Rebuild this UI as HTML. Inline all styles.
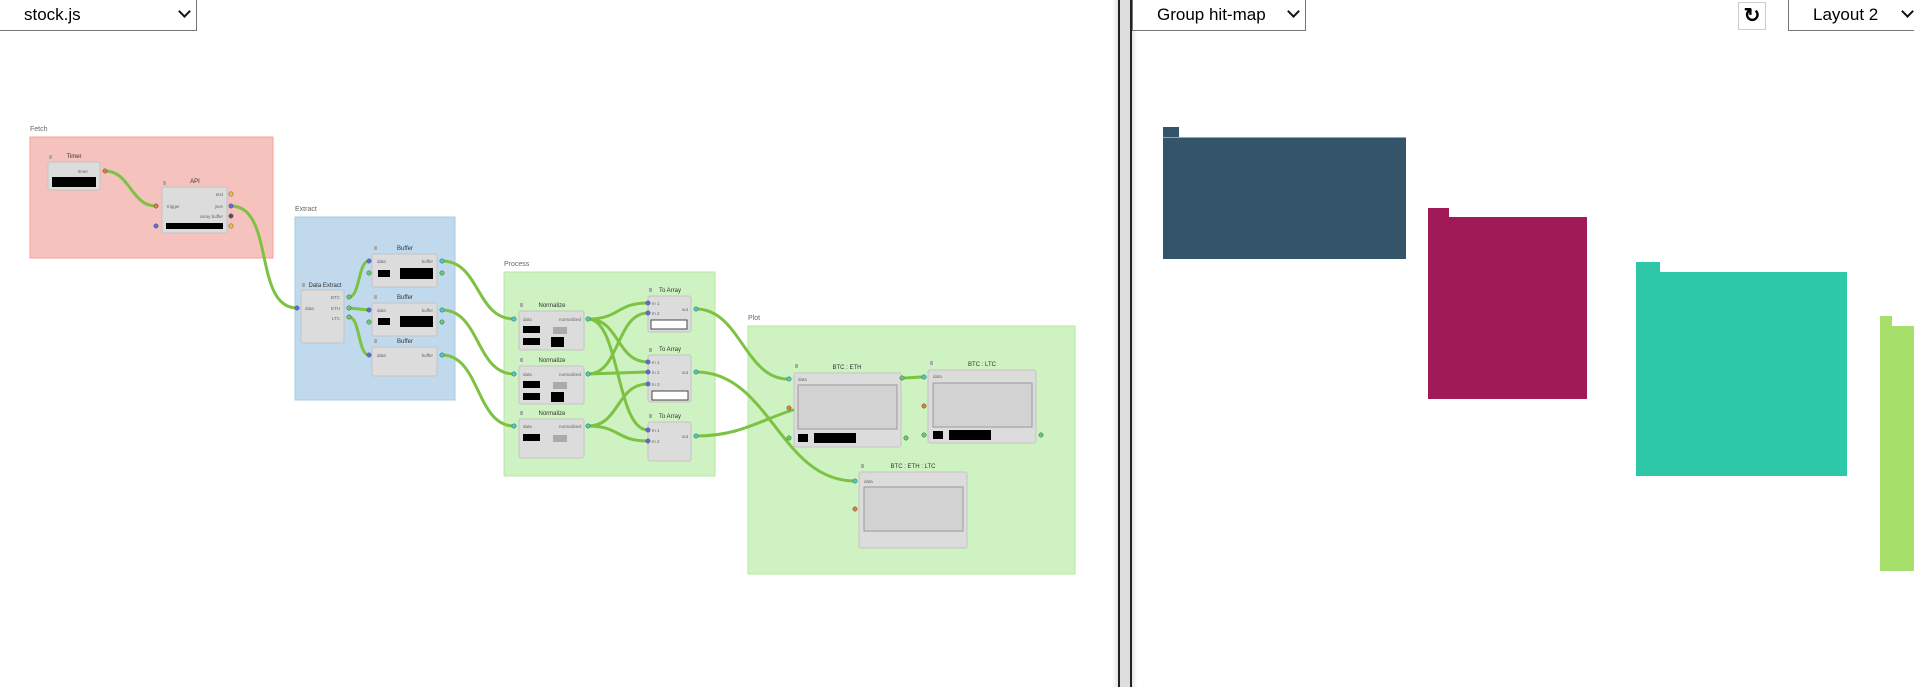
<!DOCTYPE html>
<html><head><meta charset="utf-8"><style>
html,body{margin:0;padding:0;width:1914px;height:687px;overflow:hidden;background:#fff;font-family:"Liberation Sans",sans-serif;}
.sel{position:absolute;top:-1px;height:32px;border:1px solid #767676;border-top:none;background:#fff;box-sizing:border-box;font-size:17px;color:#000;}
.sel span{position:absolute;top:6px;}
.chev{position:absolute;top:8px;width:7px;height:7px;border-right:2px solid #111;border-bottom:2px solid #111;transform:rotate(45deg);}
.abs{position:absolute;}
</style></head><body>
<div class="sel" style="left:-1px;width:198px;"><span style="left:24px">stock.js</span><div class="chev" style="left:180px"></div></div>
<div class="abs" style="left:1112px;top:0;width:6px;height:687px;background:linear-gradient(to right,#fff,#e4e4e4)"></div>
<div class="abs" style="left:1118px;top:0;width:2px;height:687px;background:#222"></div>
<div class="abs" style="left:1120px;top:0;width:10px;height:687px;background:#ddd"></div>
<div class="abs" style="left:1130px;top:0;width:2px;height:687px;background:#222"></div>
<div class="abs" style="left:1132px;top:0;width:5px;height:687px;background:linear-gradient(to right,#e4e4e4,#fff)"></div>
<div class="sel" style="left:1132px;width:174px;"><span style="left:24px">Group hit-map</span><div class="chev" style="left:156px"></div></div>
<div class="abs" style="left:1738px;top:2px;width:28px;height:28px;border:1px solid #ccc;box-sizing:border-box;font-size:20px;font-weight:bold;text-align:center;line-height:26px;">&#x21bb;</div>
<div class="sel" style="left:1788px;width:140px;"><span style="left:24px">Layout 2</span><div class="chev" style="left:114px"></div></div>

<div class="abs" style="left:1163px;top:127px;width:16px;height:10px;background:#34546a"></div>
<div class="abs" style="left:1163px;top:137px;width:243px;height:121px;background:#34546a;border-top:1px solid #8aa"></div>
<div class="abs" style="left:1428px;top:208px;width:21px;height:9px;background:#a01a58"></div>
<div class="abs" style="left:1428px;top:217px;width:159px;height:182px;background:#a01a58"></div>
<div class="abs" style="left:1636px;top:262px;width:24px;height:10px;background:#2dc8a8"></div>
<div class="abs" style="left:1636px;top:272px;width:211px;height:204px;background:#2dc8a8"></div>
<div class="abs" style="left:1880px;top:316px;width:12px;height:10px;background:#a6e06a"></div>
<div class="abs" style="left:1880px;top:326px;width:34px;height:245px;background:#a6e06a"></div>

<svg class="abs" style="left:0;top:0" width="1110" height="687" font-family="Liberation Sans, sans-serif">
<g font-size="7" fill="#666">
<rect x="30" y="137" width="243" height="121" fill="#f6c2bd" stroke="#f4a19a"/><text x="30" y="131">Fetch</text>
<rect x="295" y="217" width="160" height="183" fill="#c0d9ec" stroke="#a8cbe6"/><text x="295" y="211">Extract</text>
<rect x="504" y="272" width="211" height="204" fill="#cff2c2" stroke="#b5e8a0"/><text x="504" y="266">Process</text>
<rect x="748" y="326" width="327" height="248" fill="#cff2c2" stroke="#b5e8a0"/><text x="748" y="320">Plot</text>
</g>
<g fill="#dcdcdc" stroke="#c4c4c4">
<rect x="48" y="162" width="52" height="28" rx="2"/>
<rect x="162" y="187" width="65" height="46" rx="2"/>
<rect x="301" y="290" width="43" height="53" rx="2"/>
<rect x="372" y="254" width="65" height="33" rx="2"/>
<rect x="372" y="303" width="65" height="33" rx="2"/>
<rect x="372" y="347" width="65" height="29" rx="2"/>
<rect x="519" y="311" width="65" height="39" rx="2"/>
<rect x="519" y="366" width="65" height="38" rx="2"/>
<rect x="519" y="419" width="65" height="39" rx="2"/>
<rect x="648" y="296" width="43" height="36" rx="2"/>
<rect x="648" y="355" width="43" height="47" rx="2"/>
<rect x="648" y="422" width="43" height="39" rx="2"/>
<rect x="794" y="373" width="107" height="74" rx="2"/>
<rect x="928" y="370" width="108" height="73" rx="2"/>
<rect x="859" y="472" width="108" height="76" rx="2"/>
</g>
<g fill="#d2d2d2" stroke="#999">
<rect x="798" y="385" width="99" height="44"/>
<rect x="933" y="383" width="99" height="44"/>
<rect x="864" y="487" width="99" height="44"/>
</g>
<g fill="#000">
<rect x="52" y="177" width="44" height="10"/>
<rect x="166" y="223" width="57" height="6"/>
<rect x="378" y="270" width="12" height="7"/><rect x="400" y="268" width="33" height="11"/>
<rect x="378" y="318" width="12" height="7"/><rect x="400" y="316" width="33" height="11"/>
<rect x="523" y="326" width="17" height="7"/><rect x="523" y="338" width="17" height="7"/><rect x="551" y="337" width="13" height="10"/>
<rect x="523" y="381" width="17" height="7"/><rect x="523" y="393" width="17" height="7"/><rect x="551" y="392" width="13" height="10"/>
<rect x="523" y="434" width="17" height="7"/>
<rect x="798" y="434" width="10" height="8"/><rect x="814" y="433" width="42" height="10"/>
<rect x="933" y="431" width="10" height="8"/><rect x="949" y="430" width="42" height="10"/>
</g>
<g fill="#aaa"><rect x="553" y="327" width="14" height="7"/><rect x="553" y="382" width="14" height="7"/><rect x="553" y="435" width="14" height="7"/></g>
<g fill="#fff" stroke="#444"><rect x="651" y="320" width="36" height="9"/><rect x="652" y="391" width="36" height="9"/></g>
<g fill="none" stroke="#7dc242" stroke-width="3" stroke-linecap="round">
<path d="M105 171 C130 171,131 206,156 206"/>
<path d="M231 206 C275 206,253 308,297 308"/>
<path d="M349 297 C360 297,358 261,369 261"/>
<path d="M349 308 L369 310"/>
<path d="M349 317 C360 317,358 355,369 355"/>
<path d="M442 261 C480 261,476 319,514 319"/>
<path d="M442 310 C480 310,476 374,514 374"/>
<path d="M442 355 C480 355,476 426,514 426"/>
<path d="M588 319 C620 319,616 303,648 303"/>
<path d="M588 319 C620 319,616 362,648 362"/>
<path d="M588 319 C620 319,616 430,648 430"/>
<path d="M588 374 C620 374,616 313,648 313"/>
<path d="M588 374 L648 372"/>
<path d="M588 426 C620 426,616 384,648 384"/>
<path d="M588 426 C620 426,616 441,648 441"/>
<path d="M696 309 C740 309,745 379,788 379"/>
<path d="M696 372 C770 372,780 481,855 481"/>
<path d="M696 436 C740 436,760 420,793 410"/>
<path d="M902 378 C912 378,914 377,924 377"/>
</g>
<g stroke="#555" stroke-width="0.5">
<circle cx="105" cy="171" r="2.2" fill="#e07b39"/><circle cx="156" cy="206" r="2.2" fill="#e07b39"/>
<circle cx="231" cy="194" r="2.2" fill="#e8c53a"/><circle cx="231" cy="206" r="2.2" fill="#5a6ee0"/><circle cx="231" cy="216" r="2.2" fill="#555"/><circle cx="231" cy="226" r="2.2" fill="#e8c53a"/><circle cx="156" cy="226" r="2.2" fill="#5a6ee0"/>
<circle cx="297" cy="308" r="2.2" fill="#5a6ee0"/>
<circle cx="349" cy="297" r="2.2" fill="#6c6"/><circle cx="349" cy="308" r="2.2" fill="#6c6"/><circle cx="349" cy="317" r="2.2" fill="#6c6"/>
<circle cx="369" cy="261" r="2.2" fill="#5a6ee0"/><circle cx="369" cy="310" r="2.2" fill="#5a6ee0"/><circle cx="369" cy="355" r="2.2" fill="#5a6ee0"/>
<circle cx="369" cy="273" r="2.2" fill="#6c6"/><circle cx="369" cy="322" r="2.2" fill="#6c6"/>
<circle cx="442" cy="261" r="2.2" fill="#4cc"/><circle cx="442" cy="310" r="2.2" fill="#4cc"/><circle cx="442" cy="355" r="2.2" fill="#4cc"/>
<circle cx="442" cy="273" r="2.2" fill="#6c6"/><circle cx="442" cy="322" r="2.2" fill="#6c6"/>
<circle cx="514" cy="319" r="2.2" fill="#4cc"/><circle cx="514" cy="374" r="2.2" fill="#4cc"/><circle cx="514" cy="426" r="2.2" fill="#4cc"/>
<circle cx="588" cy="319" r="2.2" fill="#4cc"/><circle cx="588" cy="374" r="2.2" fill="#4cc"/><circle cx="588" cy="426" r="2.2" fill="#4cc"/>
<circle cx="648" cy="303" r="2.2" fill="#5a6ee0"/><circle cx="648" cy="313" r="2.2" fill="#5a6ee0"/>
<circle cx="648" cy="362" r="2.2" fill="#5a6ee0"/><circle cx="648" cy="372" r="2.2" fill="#5a6ee0"/><circle cx="648" cy="384" r="2.2" fill="#5a6ee0"/>
<circle cx="648" cy="430" r="2.2" fill="#5a6ee0"/><circle cx="648" cy="441" r="2.2" fill="#5a6ee0"/>
<circle cx="696" cy="309" r="2.2" fill="#4cc"/><circle cx="696" cy="372" r="2.2" fill="#4cc"/><circle cx="696" cy="436" r="2.2" fill="#4cc"/>
<circle cx="789" cy="379" r="2.2" fill="#4cc"/><circle cx="789" cy="408" r="2.2" fill="#e07b39"/><circle cx="789" cy="438" r="2.2" fill="#6c6"/><circle cx="906" cy="438" r="2.2" fill="#6c6"/><circle cx="902" cy="378" r="2.2" fill="#6c6"/>
<circle cx="924" cy="377" r="2.2" fill="#4cc"/><circle cx="924" cy="406" r="2.2" fill="#e07b39"/><circle cx="924" cy="435" r="2.2" fill="#6c6"/><circle cx="1041" cy="435" r="2.2" fill="#6c6"/>
<circle cx="855" cy="481" r="2.2" fill="#4cc"/><circle cx="855" cy="509" r="2.2" fill="#e07b39"/>
</g>
<g font-size="6" fill="#333" text-anchor="middle">
<text x="74" y="158">Timer</text><text x="195" y="183">API</text><text x="325" y="287">Data Extract</text>
<text x="405" y="250">Buffer</text><text x="405" y="299">Buffer</text><text x="405" y="343">Buffer</text>
<text x="552" y="307">Normalize</text><text x="552" y="362">Normalize</text><text x="552" y="415">Normalize</text>
<text x="670" y="292">To Array</text><text x="670" y="351">To Array</text><text x="670" y="418">To Array</text>
<text x="847" y="369">BTC : ETH</text><text x="982" y="366">BTC : LTC</text><text x="913" y="468">BTC : ETH : LTC</text>
</g>
<g font-size="4.5" fill="#666">
<text x="88" y="173" text-anchor="end">timer</text>
<text x="167" y="208">trigger</text><text x="223" y="196" text-anchor="end">text</text><text x="223" y="208" text-anchor="end">json</text><text x="223" y="218" text-anchor="end">array buffer</text>
<text x="305" y="310">data</text><text x="340" y="299" text-anchor="end">BTC</text><text x="340" y="310" text-anchor="end">ETH</text><text x="340" y="320" text-anchor="end">LTC</text>
<text x="377" y="263">data</text><text x="433" y="263" text-anchor="end">buffer</text>
<text x="377" y="312">data</text><text x="433" y="312" text-anchor="end">buffer</text>
<text x="377" y="357">data</text><text x="433" y="357" text-anchor="end">buffer</text>
<text x="523" y="321">data</text><text x="581" y="321" text-anchor="end">normalized</text>
<text x="523" y="376">data</text><text x="581" y="376" text-anchor="end">normalized</text>
<text x="523" y="428">data</text><text x="581" y="428" text-anchor="end">normalized</text>
<text x="652" y="305">In 1</text><text x="652" y="315">In 2</text><text x="688" y="311" text-anchor="end">out</text>
<text x="652" y="364">In 1</text><text x="652" y="374">In 2</text><text x="652" y="386">In 3</text><text x="688" y="374" text-anchor="end">out</text>
<text x="652" y="432">In 1</text><text x="652" y="443">In 2</text><text x="688" y="438" text-anchor="end">out</text>
<text x="798" y="381">data</text><text x="933" y="378">data</text><text x="864" y="483">data</text>
</g>
<g fill="#aaa"><rect x="49" y="155" width="3" height="4"/><rect x="163" y="181" width="3" height="4"/><rect x="302" y="283" width="3" height="4"/><rect x="374" y="246" width="3" height="4"/><rect x="374" y="295" width="3" height="4"/><rect x="374" y="339" width="3" height="4"/><rect x="520" y="303" width="3" height="4"/><rect x="520" y="358" width="3" height="4"/><rect x="520" y="411" width="3" height="4"/><rect x="649" y="288" width="3" height="4"/><rect x="649" y="348" width="3" height="4"/><rect x="649" y="414" width="3" height="4"/><rect x="795" y="364" width="3" height="4"/><rect x="930" y="361" width="3" height="4"/><rect x="861" y="464" width="3" height="4"/></g>
</svg>
</body></html>
